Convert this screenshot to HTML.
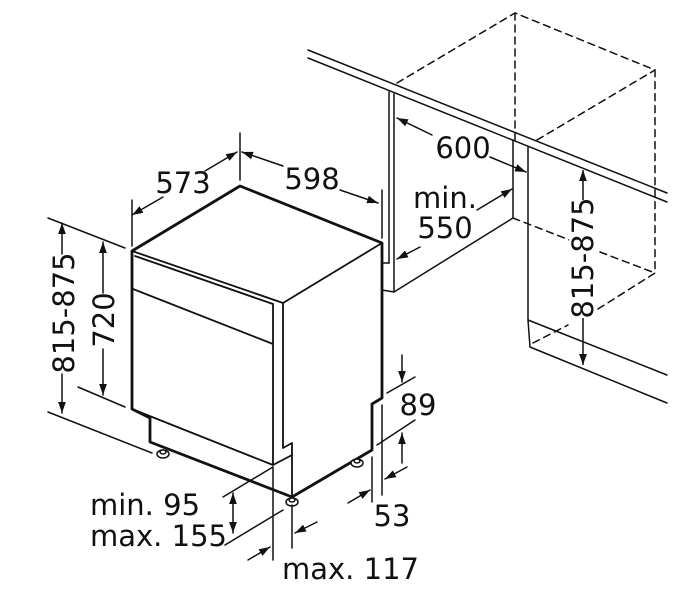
<!DOCTYPE html>
<html><head><style>
html,body{margin:0;padding:0;background:#fff;}
svg{display:block;}
text{font-family:"DejaVu Sans","Liberation Sans",sans-serif;font-size:29px;fill:#111;}
</style></head><body>
<svg width="696" height="600" viewBox="0 0 696 600" xmlns="http://www.w3.org/2000/svg">
<defs>
<marker id="a" viewBox="0 0 10 10" refX="10" refY="5" markerWidth="11" markerHeight="11" markerUnits="userSpaceOnUse" orient="auto-start-reverse"><path d="M0,1.5 L10,5 L0,8.5 z" fill="#111"/></marker>
</defs>
<g stroke="#111" fill="none" stroke-linecap="round" stroke-linejoin="round">
<g stroke-width="2.8">
<path d="M132,251 L240,186 L382,243 L382,398 L372,404 L372,450 L292,497 L150,442 L150,418 L132,409 Z"/>
</g>
<g stroke-width="1.8">
<path d="M132,251 L283,303 L382,243"/>
<path d="M135,256 L273,304"/>
<path d="M133,289 L273,344"/>
<path d="M273,304 L273,465"/>
<path d="M283,303 L283,448 L292,443 L292,497"/>
<path d="M132,409 L273,465 L292,455"/>
</g>
<g stroke-width="1.5" fill="#fff">
<ellipse cx="163" cy="454" rx="6" ry="4"/><ellipse cx="163" cy="452" rx="3" ry="2"/>
<ellipse cx="292" cy="502" rx="6" ry="4"/><ellipse cx="292" cy="500" rx="3" ry="2"/>
<ellipse cx="357" cy="463" rx="6" ry="4"/><ellipse cx="357" cy="461" rx="3" ry="2"/>
</g>
<g stroke-width="1.5">
<path d="M132,200 L132,246"/><path d="M240,133 L240,180"/><path d="M382,190 L382,238"/>
<path d="M163,197 L132,215" marker-end="url(#a)"/><path d="M205,171 L237,152" marker-end="url(#a)"/>
<path d="M283,166 L242,152" marker-end="url(#a)"/>
<path d="M340,190 L378,203" marker-end="url(#a)"/>
<path d="M48,218 L125,248"/><path d="M48,412 L152,453"/>
<path d="M62,254 L62,223" marker-end="url(#a)"/><path d="M62,374 L62,413" marker-end="url(#a)"/>
<path d="M78,387 L125,407"/>
<path d="M103,293 L103,242" marker-end="url(#a)"/><path d="M103,349 L103,395" marker-end="url(#a)"/>
<path d="M223,497 L273,467"/><path d="M225,545 L283,510"/>
<path d="M233,493 L233,533" marker-start="url(#a)" marker-end="url(#a)"/>
<path d="M273,467 L273,560"/><path d="M292,505 L292,548"/>
<path d="M248,560 L270,547" marker-end="url(#a)"/><path d="M317,522 L295,533" marker-end="url(#a)"/>
<path d="M402,355 L402,382" marker-end="url(#a)"/>
<path d="M387,393 L415,377"/><path d="M377,445 L415,420"/>
<path d="M402,463 L402,433" marker-end="url(#a)"/>
<path d="M372,457 L372,502"/><path d="M382,405 L382,495"/>
<path d="M348,503 L370,490" marker-end="url(#a)"/><path d="M407,467 L385,479" marker-end="url(#a)"/>
<path d="M308,50 L667,193"/><path d="M308,58 L667,202"/>
<path d="M389,92 L389,263"/><path d="M394,94 L394,292"/>
<path d="M382,263 L389,263"/><path d="M382,263 L382,290 L394,292 L513,218 L513,140"/>
<path d="M528,147 L528,320 L667,375"/><path d="M528,320 L530,347 L667,403"/>
<path d="M397,118 L432,135" marker-start="url(#a)"/><path d="M490,157 L526,172" marker-end="url(#a)"/>
<path d="M477,210 L512,189" marker-end="url(#a)"/><path d="M420,247 L397,259" marker-end="url(#a)"/>
</g>
<g stroke-width="1.5" stroke-dasharray="7,5">
<path d="M397,83 L515,13 L655,70 L655,273"/><path d="M515,13 L515,140"/>
<path d="M537,140 L655,70"/><path d="M513,218 L572,241"/><path d="M600,252 L655,273"/>
<path d="M533,343 L568,325"/><path d="M598,309 L655,273"/>
</g>
</g>
<rect x="569" y="198" width="28" height="122" fill="#fff"/>
<g stroke="#111" stroke-width="1.5" fill="none">
<path d="M583,200 L583,170" marker-end="url(#a)"/><path d="M583,318 L583,365" marker-end="url(#a)"/>
</g>
<text x="183" y="193" text-anchor="middle">573</text>
<text x="312" y="189" text-anchor="middle">598</text>
<text x="463" y="158" text-anchor="middle">600</text>
<text x="445" y="208" text-anchor="middle">min.</text>
<text x="445" y="238" text-anchor="middle">550</text>
<text transform="translate(74,313) rotate(-90)" text-anchor="middle">815-875</text>
<text transform="translate(114,320) rotate(-90)" text-anchor="middle">720</text>
<text transform="translate(593,258) rotate(-90)" text-anchor="middle">815-875</text>
<text x="418" y="415" text-anchor="middle">89</text>
<text x="392" y="526" text-anchor="middle">53</text>
<text x="90" y="515">min. 95</text>
<text x="90" y="546">max. 155</text>
<text x="282" y="579">max. 117</text>
</svg>
</body></html>
